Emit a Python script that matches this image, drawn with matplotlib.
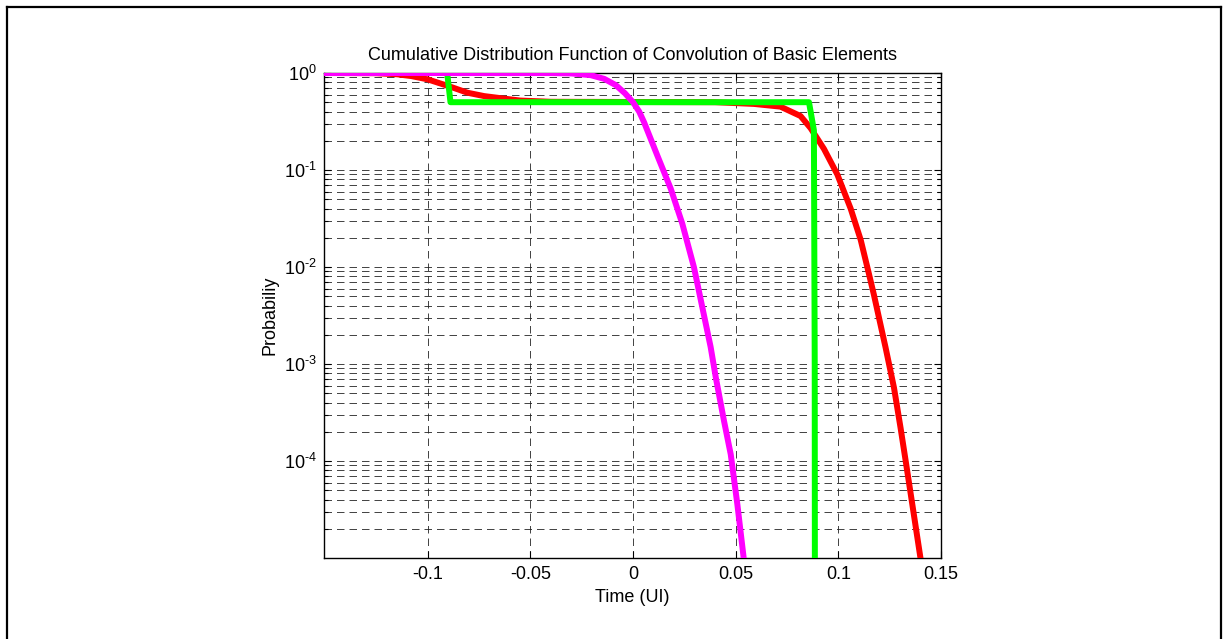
import matplotlib
matplotlib.use("Agg")
import matplotlib.pyplot as plt
from matplotlib.lines import Line2D
import numpy as np

plt.rcParams['font.family'] = ['Liberation Sans', 'DejaVu Sans']
plt.rcParams['mathtext.fontset'] = 'custom'
plt.rcParams['mathtext.rm'] = 'Liberation Sans'
plt.rcParams['mathtext.it'] = 'Liberation Sans'
plt.rcParams['axes.unicode_minus'] = False

# ---- data ----
red_x = [-0.15, -0.125, -0.115, -0.108, -0.1, -0.0888, -0.0806, -0.0725, -0.0644, -0.055, -0.04,
         0.04, 0.0589, 0.0718, 0.0816, 0.0865, 0.093, 0.0995, 0.106, 0.1109, 0.1149, 0.1173,
         0.123, 0.1271, 0.1303, 0.1328, 0.136, 0.14]
red_p = [1.0, 0.995, 0.97, 0.93, 0.86, 0.72, 0.626, 0.578, 0.55, 0.52, 0.505,
         0.5, 0.48, 0.45, 0.36, 0.27, 0.165, 0.09, 0.04, 0.019, 0.0085, 0.0052,
         0.00148, 5.7e-4, 2.2e-4, 1.0e-4, 3.6e-5, 1.0e-5]

green_x = [-0.15, -0.0905, -0.0889, 0.0857, 0.0881, 0.0885, 0.0886]
green_p = [1.0, 1.0, 0.5, 0.5, 0.257, 1e-3, 1e-6]

mag_x = [-0.15, -0.04, -0.03, -0.0206, -0.014, -0.0084, -0.004, 0.0, 0.003, 0.0054, 0.0119,
         0.0184, 0.024, 0.0297, 0.0338, 0.0378, 0.0403, 0.0443, 0.0476, 0.0508, 0.054]
mag_p = [1.0, 0.999, 0.99, 0.95, 0.87, 0.75, 0.62, 0.5, 0.40, 0.31, 0.14,
         0.064, 0.028, 0.0099, 0.0038, 0.0015, 7.3e-4, 2.6e-4, 1.17e-4, 3.6e-5, 9.6e-6]

xticks = [-0.1, -0.05, 0, 0.05, 0.1, 0.15]
xticklabels = ['-0.1', '-0.05', '0', '0.05', '0.1', '0.15']
yticks = [1e-4, 1e-3, 1e-2, 1e-1, 1e0]
yticklabels = [r'$\mathregular{10^{\text{-}4}}$', r'$\mathregular{10^{\text{-}3}}$',
               r'$\mathregular{10^{\text{-}2}}$', r'$\mathregular{10^{\text{-}1}}$',
               r'$\mathregular{10^{0}}$']

FS = 13
W, H = 1228, 639
fig = plt.figure(figsize=(W / 100, H / 100), dpi=100)
ax = fig.add_axes([324 / W, 1 - 558 / H, (941 - 324) / W, (558 - 73) / H])

ax.plot(red_x, red_p, color='#ff0000', lw=4.3, solid_joinstyle='round', zorder=3)
ax.plot(green_x, green_p, color='#00ff00', lw=4.3, solid_joinstyle='round', zorder=4)
ax.plot(mag_x, mag_p, color='#ff00ff', lw=4.3, solid_joinstyle='round', zorder=5)

ax.set_yscale('log')
ax.set_xlim(-0.1505, 0.15)
ax.set_ylim(1e-5, 1)
ax.set_xticks(xticks)
ax.set_xticklabels(xticklabels)
ax.set_yticks(yticks)
ax.set_yticklabels(yticklabels)
ax.yaxis.set_minor_locator(matplotlib.ticker.LogLocator(base=10, subs=np.arange(2, 10), numticks=20))
ax.yaxis.set_minor_formatter(matplotlib.ticker.NullFormatter())

ax.tick_params(which='both', direction='in', top=True, right=True, labelsize=FS, width=0.8)
ax.tick_params(which='major', length=5)
ax.tick_params(which='minor', length=3)
ax.tick_params(axis='x', pad=6)
ax.tick_params(axis='y', pad=5)

gstyle = dict(color='#222222', linewidth=0.6, linestyle=(0, (9, 6)))
ax.grid(True, which='major', axis='both', **gstyle)
ax.grid(True, which='minor', axis='y', **gstyle)
ax.set_axisbelow(True)
for s in ax.spines.values():
    s.set_linewidth(1.0)

ax.set_title('Cumulative Distribution Function of Convolution of Basic Elements', fontsize=FS, pad=9)
ax.set_xlabel('Time (UI)', fontsize=FS, labelpad=4)
ax.set_ylabel('Probabiliy', fontsize=FS, labelpad=4)

# outer frame
lx, rx, ty = 7 / W, 1221 / W, 1 - 7 / H
fig.add_artist(Line2D([lx, lx], [0, ty], color='black', lw=1.6, transform=fig.transFigure))
fig.add_artist(Line2D([lx, rx], [ty, ty], color='black', lw=1.6, transform=fig.transFigure))
fig.add_artist(Line2D([rx, rx], [0, ty], color='black', lw=1.6, transform=fig.transFigure))

fig.savefig('out.png', dpi=100)
